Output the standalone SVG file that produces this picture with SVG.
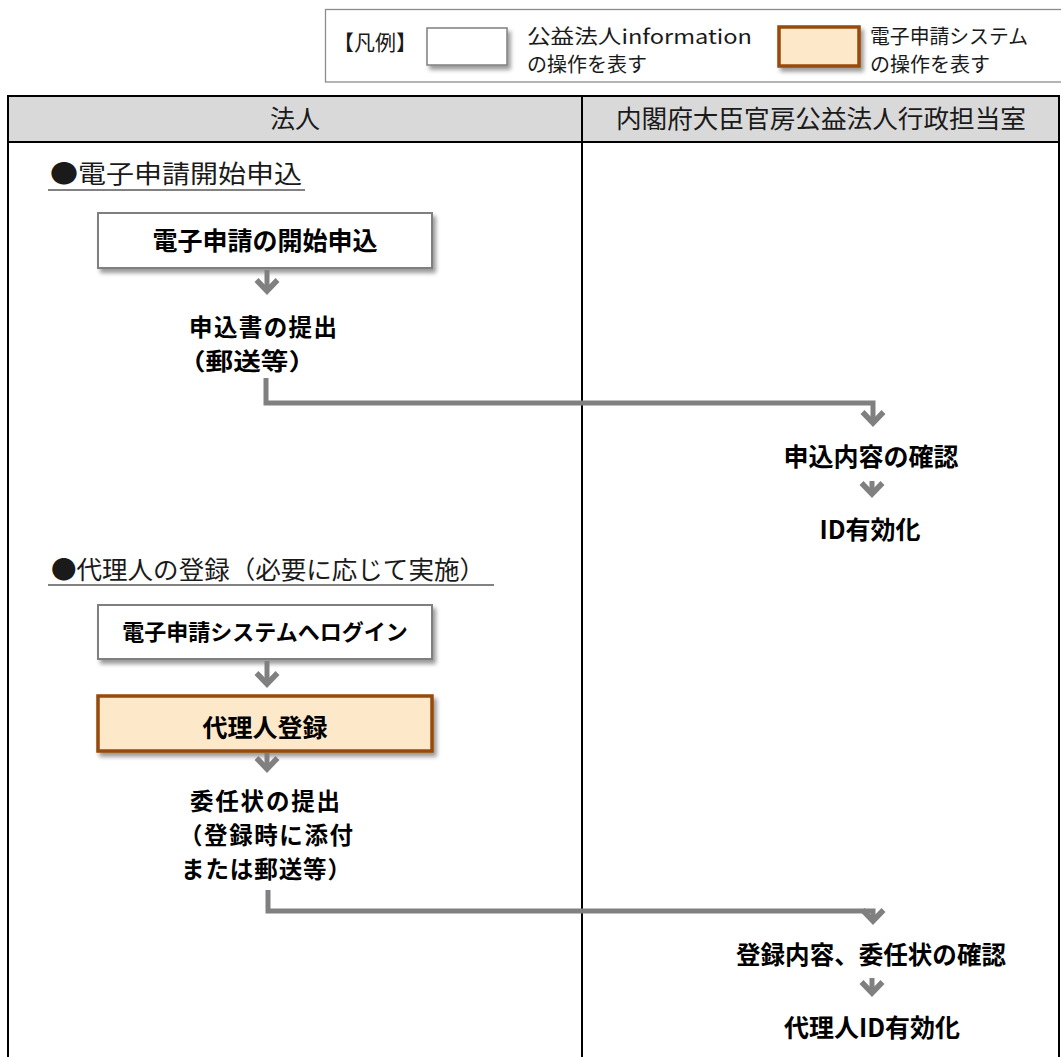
<svg xmlns="http://www.w3.org/2000/svg" width="1061" height="1057" viewBox="0 0 1061 1057">
<defs>
<style>
text{font-family:"Noto Sans CJK JP","Noto Sans",sans-serif;fill:#000}
.leg{font-size:20px;fill:#1a1a1a}
.hd{font-size:25px;fill:#1a1a1a}
.sec{font-size:25px;fill:#1a1a1a}
.nd{font-size:25px;font-weight:700}
.ml{font-size:23.5px;font-weight:700}
.wbox{fill:#fff;stroke:#7f7f7f;stroke-width:2}
.obox{fill:#fde9c9;stroke:#984807;stroke-width:3.5}
.conn{fill:none;stroke:#808080;stroke-width:5;marker-end:url(#ah)}
.ul{stroke:#595959;stroke-width:1.5}
.grid{stroke:#000;stroke-width:2;fill:none}
</style>
<marker id="ah" markerUnits="userSpaceOnUse" markerWidth="30" markerHeight="30" refX="10" refY="12" orient="auto" viewBox="0 0 30 30" overflow="visible">
<path d="M0,1.5 L11,12 L0,22.5" fill="none" stroke="#808080" stroke-width="5.5" stroke-linejoin="miter"/>
</marker>
<filter id="sh" x="-10%" y="-20%" width="130%" height="160%">
<feDropShadow dx="3" dy="4" stdDeviation="2.2" flood-color="#000" flood-opacity="0.4"/>
</filter>
</defs>

<g id="legend">
<rect x="325.5" y="9.5" width="745" height="72.5" fill="#fff" stroke="#8c8c8c" stroke-width="1.3"/>
<text class="leg" x="333" y="50" style="font-size:21px">【凡例】</text>
<rect class="wbox" x="427" y="28" width="80" height="37" filter="url(#sh)" style="stroke-width:1.5"/>
<text class="leg"><tspan x="527" y="44" textLength="225" lengthAdjust="spacingAndGlyphs">公益法人information</tspan><tspan x="527" y="72">の操作を表す</tspan></text>
<rect class="obox" x="779" y="27" width="80" height="39" filter="url(#sh)"/>
<text class="leg"><tspan x="870" y="44" textLength="158" lengthAdjust="spacingAndGlyphs">電子申請システム</tspan><tspan x="870" y="72">の操作を表す</tspan></text>
</g>

<g id="table">
<rect x="8" y="96" width="1051" height="46" fill="#d9d9d9"/>
<path class="grid" d="M8,1060 V96 H1059 V1060 M8,142 H1059 M582,96 V1060"/>
<text class="hd" x="295" y="128" text-anchor="middle">法人</text>
<text class="hd" x="821" y="128" text-anchor="middle" textLength="410" lengthAdjust="spacingAndGlyphs">内閣府大臣官房公益法人行政担当室</text>
</g>

<g id="section1">
<text class="sec" x="50" y="183" textLength="252" lengthAdjust="spacingAndGlyphs">●電子申請開始申込</text>
<line class="ul" x1="48" y1="190" x2="305" y2="190"/>
</g>

<g id="section2">
<text class="sec" x="51" y="579" textLength="434" lengthAdjust="spacingAndGlyphs">●代理人の登録（必要に応じて実施）</text>
<line class="ul" x1="48" y1="585" x2="494" y2="585"/>
</g>

<g id="n1">
<rect class="wbox" x="98" y="213" width="334" height="55" filter="url(#sh)"/>
<text class="nd" x="265" y="250" text-anchor="middle">電子申請の開始申込</text>
</g>

<g id="n2">
<text class="ml"><tspan x="189" y="336" textLength="148">申込書の提出</tspan><tspan x="178" y="370" textLength="138" lengthAdjust="spacingAndGlyphs">（郵送等）</tspan></text>
</g>

<g id="n3">
<text class="nd" x="871" y="466" text-anchor="middle">申込内容の確認</text>
</g>

<g id="n4">
<text class="nd" x="870" y="539" text-anchor="middle">ID有効化</text>
</g>

<g id="n5">
<rect class="wbox" x="98" y="605" width="334" height="54" filter="url(#sh)"/>
<text class="nd" x="265" y="640" text-anchor="middle" style="font-size:22px">電子申請システムへログイン</text>
</g>

<g id="n6">
<rect class="obox" x="98" y="696" width="334" height="55" filter="url(#sh)"/>
<text class="nd" x="265" y="737" text-anchor="middle">代理人登録</text>
</g>

<g id="n7">
<text class="ml"><tspan x="190" y="810" textLength="150">委任状の提出</tspan><tspan x="179" y="844" textLength="174">（登録時に添付</tspan><tspan x="181" y="878" textLength="170">または郵送等）</tspan></text>
</g>

<g id="n8">
<text class="nd" x="871" y="964" text-anchor="middle" textLength="270" lengthAdjust="spacingAndGlyphs">登録内容、委任状の確認</text>
</g>

<g id="n9">
<text class="nd" x="872" y="1037" text-anchor="middle">代理人ID有効化</text>
</g>

<g id="connectors">
<path class="conn" d="M267,270 V290"/>
<path class="conn" d="M266,378 V403 H873 V422"/>
<path class="conn" d="M872,481 V493"/>
<path class="conn" d="M267,661 V683"/>
<path class="conn" d="M267,753 V768"/>
<path class="conn" d="M268,890 V911 H873 V920"/>
<path class="conn" d="M872,978 V992"/>
</g>
</svg>
